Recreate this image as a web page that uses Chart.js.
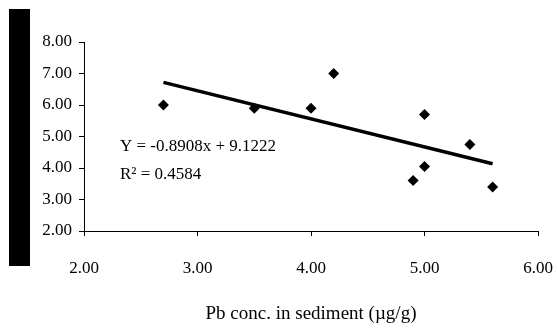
<!DOCTYPE html>
<html>
<head>
<meta charset="utf-8">
<script src="https://cdn.jsdelivr.net/npm/chart.js@4"></script>
<style>
  html, body { margin: 0; padding: 0; background: #fff; }
  #wrap { width: 558px; height: 331px; }
</style>
</head>
<body>
<div id="wrap"><canvas id="chart" width="558" height="331"></canvas></div>
<script>
// Pb in sediment (x) vs. measured value (y)
const pbSediment = [2.7, 3.5, 4.0, 4.2, 4.9, 5.0, 5.0, 5.4, 5.6];
const yValues = [6.0, 5.9, 5.9, 7.0, 3.6, 5.7, 4.05, 4.75, 3.4];

// linear trendline as reported on the chart
const trendSlope = -0.8908;
const trendIntercept = 9.1222;
const rSquared = 0.4584;

const xTicks = [2, 3, 4, 5, 6];
const yTicks = [2, 3, 4, 5, 6, 7, 8];
const xTitle = "Pb conc. in sediment (\u00b5g/g)";

const FONT = "'Liberation Serif', 'Times New Roman', serif";

const scatterPoints = pbSediment.map((x, i) => ({ x: x, y: yValues[i] }));
const xMin = Math.min(...pbSediment);
const xMax = Math.max(...pbSediment);
const trendPoints = [xMin, xMax].map(x => ({ x: x, y: trendSlope * x + trendIntercept }));

// black block on the left and the regression text
const extras = {
  id: "extras",
  afterDraw(chart) {
    const ctx = chart.ctx;
    ctx.save();
    ctx.fillStyle = "#000";
    ctx.fillRect(9, 9, 21, 257);
    ctx.font = "17px " + FONT;
    ctx.textBaseline = "middle";
    ctx.textAlign = "left";
    ctx.fillText("Y = " + trendSlope.toFixed(4) + "x + " + trendIntercept.toFixed(4), 120, 147);
    ctx.fillText("R\u00b2 = " + rSquared.toFixed(4), 120, 175);
    ctx.restore();
  }
};

new Chart(document.getElementById("chart").getContext("2d"), {
  type: "scatter",
  data: {
    datasets: [
      {
        label: "Data",
        data: scatterPoints,
        pointStyle: "rectRot",
        pointRadius: 5.5,
        pointHoverRadius: 5.5,
        backgroundColor: "#000",
        borderColor: "#000",
        borderWidth: 0,
      },
      {
        label: "Trend",
        type: "line",
        data: trendPoints,
        borderColor: "#000",
        borderWidth: 3.5,
        pointRadius: 0,
        fill: false,
      },
    ],
  },
  options: {
    responsive: false,
    animation: false,
    layout: { padding: { left: 0, right: 20, top: 42, bottom: 4 } },
    plugins: {
      legend: { display: false },
      tooltip: { enabled: false },
    },
    scales: {
      x: {
        type: "linear",
        min: xTicks[0],
        max: xTicks[xTicks.length - 1],
        afterBuildTicks: (s) => { s.ticks = xTicks.map(v => ({ value: v })); },
        afterFit: (s) => {
          s.height = 96;
          // the big tick padding would otherwise widen the right margin
          s.paddingLeft = 0;
          s.paddingRight = 0;
        },
        grid: { drawOnChartArea: false, drawTicks: true, tickLength: 5, tickColor: "#000" },
        border: { display: true, color: "#000", width: 1 },
        ticks: {
          color: "#000",
          padding: 22,
          maxRotation: 0,
          font: { family: FONT, size: 17 },
          callback: (v) => Number(v).toFixed(2),
        },
        title: {
          display: true,
          text: xTitle,
          color: "#000",
          font: { family: FONT, size: 19 },
          padding: { top: 0, bottom: 2 },
        },
      },
      y: {
        type: "linear",
        min: yTicks[0],
        max: yTicks[yTicks.length - 1],
        afterBuildTicks: (s) => { s.ticks = yTicks.map(v => ({ value: v })); },
        afterFit: (s) => { s.width = 84; },
        grid: { drawOnChartArea: false, drawTicks: true, tickLength: 5, tickColor: "#000" },
        border: { display: true, color: "#000", width: 1 },
        ticks: {
          color: "#000",
          padding: 7,
          font: { family: FONT, size: 17 },
          callback: (v) => Number(v).toFixed(2),
        },
      },
    },
  },
  plugins: [extras],
});
</script>
</body>
</html>
